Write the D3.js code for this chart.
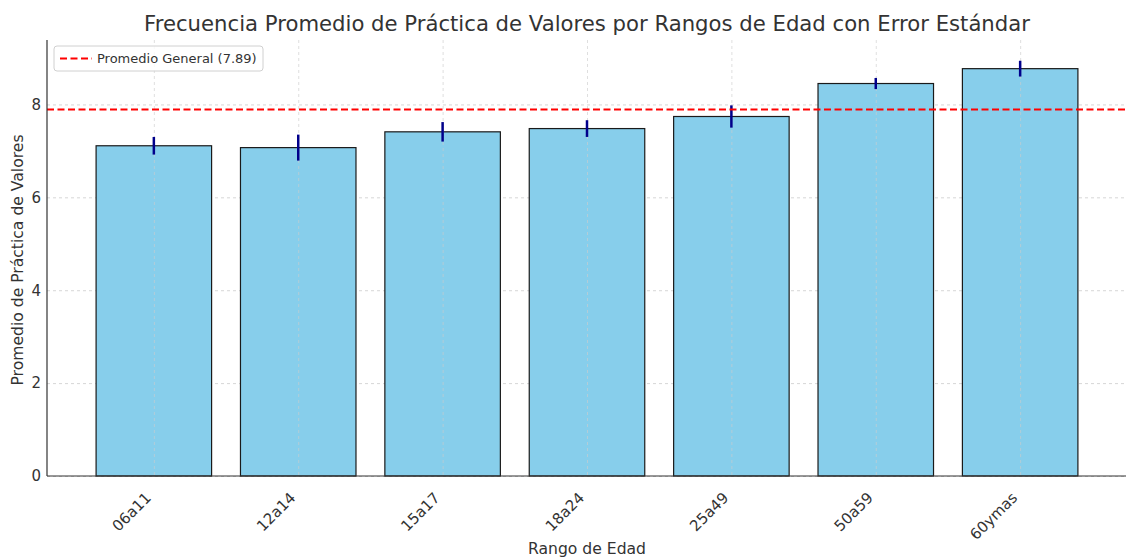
<!doctype html>
<html>
<head>
<meta charset="utf-8">
<script src="https://cdnjs.cloudflare.com/ajax/libs/d3/7.8.5/d3.min.js"></script>
<style>
	body { margin: 0; background: #fff; }
	svg { font-family: "DejaVu Sans", sans-serif; }
	.grid line { stroke: #cccccc; stroke-dasharray: 3,3; stroke-width: 0.8; }
	.grid path { display: none; }
	.axis path, .axis line { stroke: #333; stroke-width: 1.2; }
</style>
</head>
<body>
<script>
	// datos
	var rangos = ["06a11", "12a14", "15a17", "18a24", "25a49", "50a59", "60ymas"];
	var promedios = [7.11, 7.07, 7.41, 7.48, 7.74, 8.45, 8.77];
	var errores = [0.19, 0.28, 0.21, 0.18, 0.24, 0.12, 0.17];
	var promedioGeneral = 7.89;
	var yTicks = [0, 2, 4, 6, 8];

	var W = 1126, H = 560;
	var margin = {top: 40, right: 0, bottom: 84, left: 47};
	var width = W - margin.left - margin.right;
	var height = H - margin.top - margin.bottom;

	var svg = d3.select("body").append("svg")
		.attr("width", W).attr("height", H);

	var g = svg.append("g")
		.attr("transform", "translate(" + margin.left + "," + margin.top + ")");

	// escala x como en matplotlib: centros en 0..n-1, margen 5%
	var n = rangos.length;
	var lo = -0.4 - 0.05 * (n - 0.2), hi = (n - 1) + 0.4 + 0.05 * (n - 0.2);
	var x = d3.scaleLinear().domain([lo, hi]).range([0, 1127 - margin.left]);
	var bw = x(0.8) - x(0);

	var ymax = d3.max(promedios.map((d, i) => d + errores[i])) * 1.05;
	var y = d3.scaleLinear().domain([0, ymax]).range([height, 0]);

	// grid horizontal
	g.append("g").attr("class", "grid")
		.call(d3.axisLeft(y).tickValues(yTicks).tickSize(-width).tickFormat(""));

	// barras
	g.selectAll("rect.bar")
		.data(promedios)
		.enter().append("rect")
		.attr("class", "bar")
		.attr("x", (d, i) => x(i) - bw / 2)
		.attr("y", d => y(d))
		.attr("width", bw)
		.attr("height", d => height - y(d))
		.style("fill", "#87ceeb")
		.style("stroke", "#1a1a1a")
		.style("stroke-width", 1.2);

	// grid vertical encima de las barras
	g.append("g").attr("class", "grid")
		.call(d3.axisBottom(x).tickValues(d3.range(n)).tickSize(0).tickFormat(""))
		.selectAll("line").attr("y1", 0).attr("y2", height).style("opacity", 0.8);

	// barras de error
	g.selectAll("line.err")
		.data(promedios)
		.enter().append("line")
		.attr("class", "err")
		.attr("x1", (d, i) => x(i)).attr("x2", (d, i) => x(i))
		.attr("y1", (d, i) => y(d - errores[i]))
		.attr("y2", (d, i) => y(d + errores[i]))
		.style("stroke", "#00008b")
		.style("stroke-width", 2.5);

	// linea promedio general
	g.append("line")
		.attr("x1", 0).attr("x2", width)
		.attr("y1", y(promedioGeneral)).attr("y2", y(promedioGeneral))
		.style("stroke", "#ff0000")
		.style("stroke-width", 2)
		.style("stroke-dasharray", "7,3.5");

	// ejes
	var ya = g.append("g").attr("class", "axis")
		.call(d3.axisLeft(y).tickValues(yTicks).tickSize(0).tickPadding(6))
		.attr("font-size", 15)
		.attr("font-family", "DejaVu Sans");
	ya.select(".domain").attr("d", "M0," + height + "V0");
	ya.selectAll("text").attr("font-size", 15).style("fill", "#333");

	var xa = g.append("g").attr("class", "axis")
		.attr("transform", "translate(0," + height + ")")
		.call(d3.axisBottom(x).tickValues(d3.range(n)).tickSize(0).tickFormat(i => rangos[i]))
		.attr("font-size", 15)
		.attr("font-family", "DejaVu Sans");
	xa.select(".domain").attr("d", "M0,0H" + width);
	xa.selectAll("text")
		.attr("font-size", 15).style("fill", "#333")
		.attr("text-anchor", "end")
		.attr("dy", "0.35em")
		.attr("y", 0)
		.attr("transform", "translate(-6,19) rotate(-45)");

	// titulos
	svg.append("text")
		.attr("x", 587).attr("y", 31)
		.attr("text-anchor", "middle")
		.style("font-size", "21.2px").style("fill", "#333")
		.text("Frecuencia Promedio de Práctica de Valores por Rangos de Edad con Error Estándar");

	svg.append("text")
		.attr("x", 587).attr("y", 554)
		.attr("text-anchor", "middle")
		.style("font-size", "15.6px").style("fill", "#333")
		.text("Rango de Edad");

	svg.append("text")
		.attr("transform", "translate(23," + (margin.top + height / 2 + 2) + ") rotate(-90)")
		.attr("text-anchor", "middle")
		.style("font-size", "15.6px").style("fill", "#333")
		.text("Promedio de Práctica de Valores");

	// leyenda
	var lg = g.append("g").attr("transform", "translate(7,6)");
	lg.append("rect")
		.attr("width", 209).attr("height", 25).attr("rx", 3)
		.style("fill", "#fff").style("fill-opacity", 0.8)
		.style("stroke", "#d0d0d0");
	lg.append("line")
		.attr("x1", 6).attr("x2", 38).attr("y1", 12.5).attr("y2", 12.5)
		.style("stroke", "#ff0000").style("stroke-width", 2)
		.style("stroke-dasharray", "7,3.5");
	lg.append("text")
		.attr("x", 43).attr("y", 17)
		.style("font-size", "13px").style("fill", "#333")
		.text("Promedio General (" + promedioGeneral.toFixed(2) + ")");
</script>
</body>
</html>
